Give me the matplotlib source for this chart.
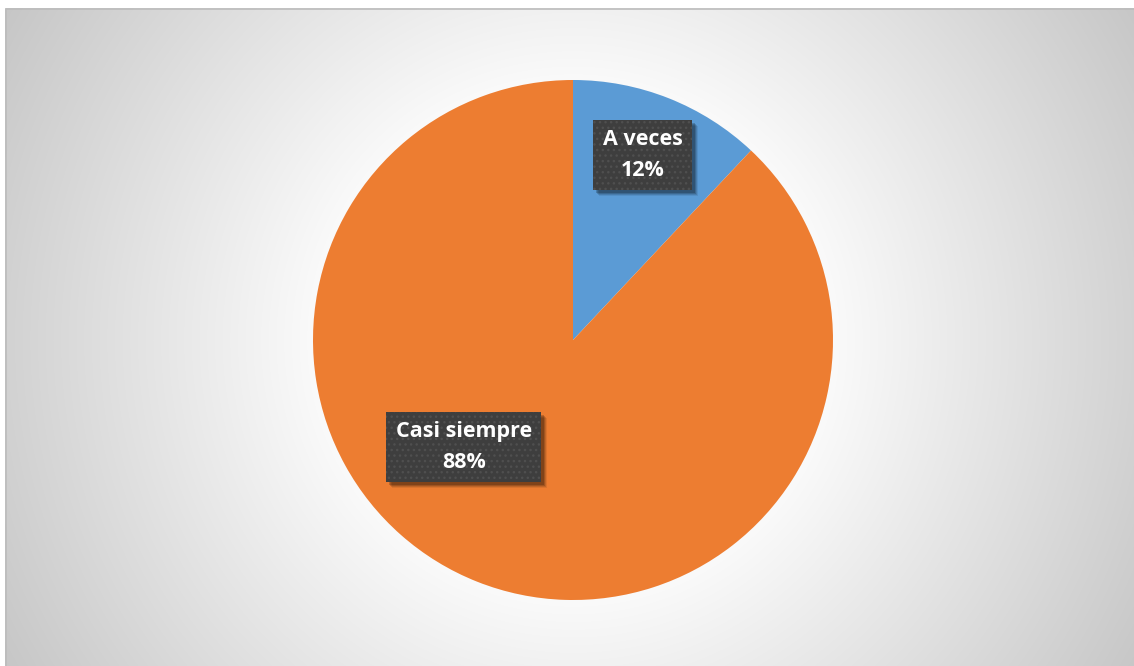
import numpy as np
import matplotlib.pyplot as plt
from matplotlib.patches import Rectangle
from matplotlib.transforms import IdentityTransform

labels = ["A veces", "Casi siempre"]
percents = [12, 88]
colors = ["#5B9BD5", "#ED7D31"]
# where each label box sits, in pie data units
label_pos = [(0.268, 0.712), (-0.42, -0.412)]

W, H = 1134, 666
fig = plt.figure(figsize=(W / 100, H / 100), dpi=100)
fig.patch.set_facecolor("white")

# radial grey background inside the chart frame
bg = fig.add_axes([0, 0, 1, 1])
bg.set_xlim(0, W)
bg.set_ylim(H, 0)
bg.axis("off")
yy, xx = np.mgrid[0:H, 0:W]
d = np.hypot(xx - 573, yy - 340)
grey = (255 - 0.13 * np.clip(d - 220, 0, None)) / 255.0
img = np.dstack([grey, grey, grey])
img[:8, :, :] = 1.0
img[:, :5, :] = 1.0
bg.imshow(img, extent=(0, W, H, 0), interpolation="bilinear")
bg.add_patch(Rectangle((5.5, 8.5), W, H, fill=False, edgecolor="#bcbcbc", lw=1.2))

cx, cy, rad = 573, 340, 260
ax = fig.add_axes([(cx - rad) / W, (H - cy - rad) / H, 2 * rad / W, 2 * rad / H])
ax.pie(percents, colors=colors, startangle=90, counterclock=False, radius=1,
       wedgeprops=dict(linewidth=0))
ax.set_xlim(-1, 1)
ax.set_ylim(-1, 1)
ax.set_aspect("equal")
ax.axis("off")

texts = []
for (lx, ly), lab, p in zip(label_pos, labels, percents):
    t = ax.text(lx, ly, f"{lab}\n{p}%", ha="center", va="center", color="white",
                family=["Open Sans", "DejaVu Sans"], fontweight="bold", fontsize=15.5,
                linespacing=1.6, zorder=5,
                bbox=dict(boxstyle="square,pad=0.44", facecolor="#3e3e3e",
                          edgecolor="#4f4f4f", hatch="...", lw=0))
    texts.append(t)

# soft drop shadow under each box (pixel coordinates)
fig.canvas.draw()
for t in texts:
    bb = t.get_bbox_patch().get_window_extent()
    for k, a in [(6, 0.08), (5, 0.12), (4, 0.16), (3, 0.2)]:
        ax.add_patch(Rectangle((bb.x0 + k, bb.y0 - k), bb.width, bb.height,
                               transform=IdentityTransform(), facecolor="black",
                               alpha=a, lw=0, zorder=4))

fig.savefig("out.png", dpi=100)
